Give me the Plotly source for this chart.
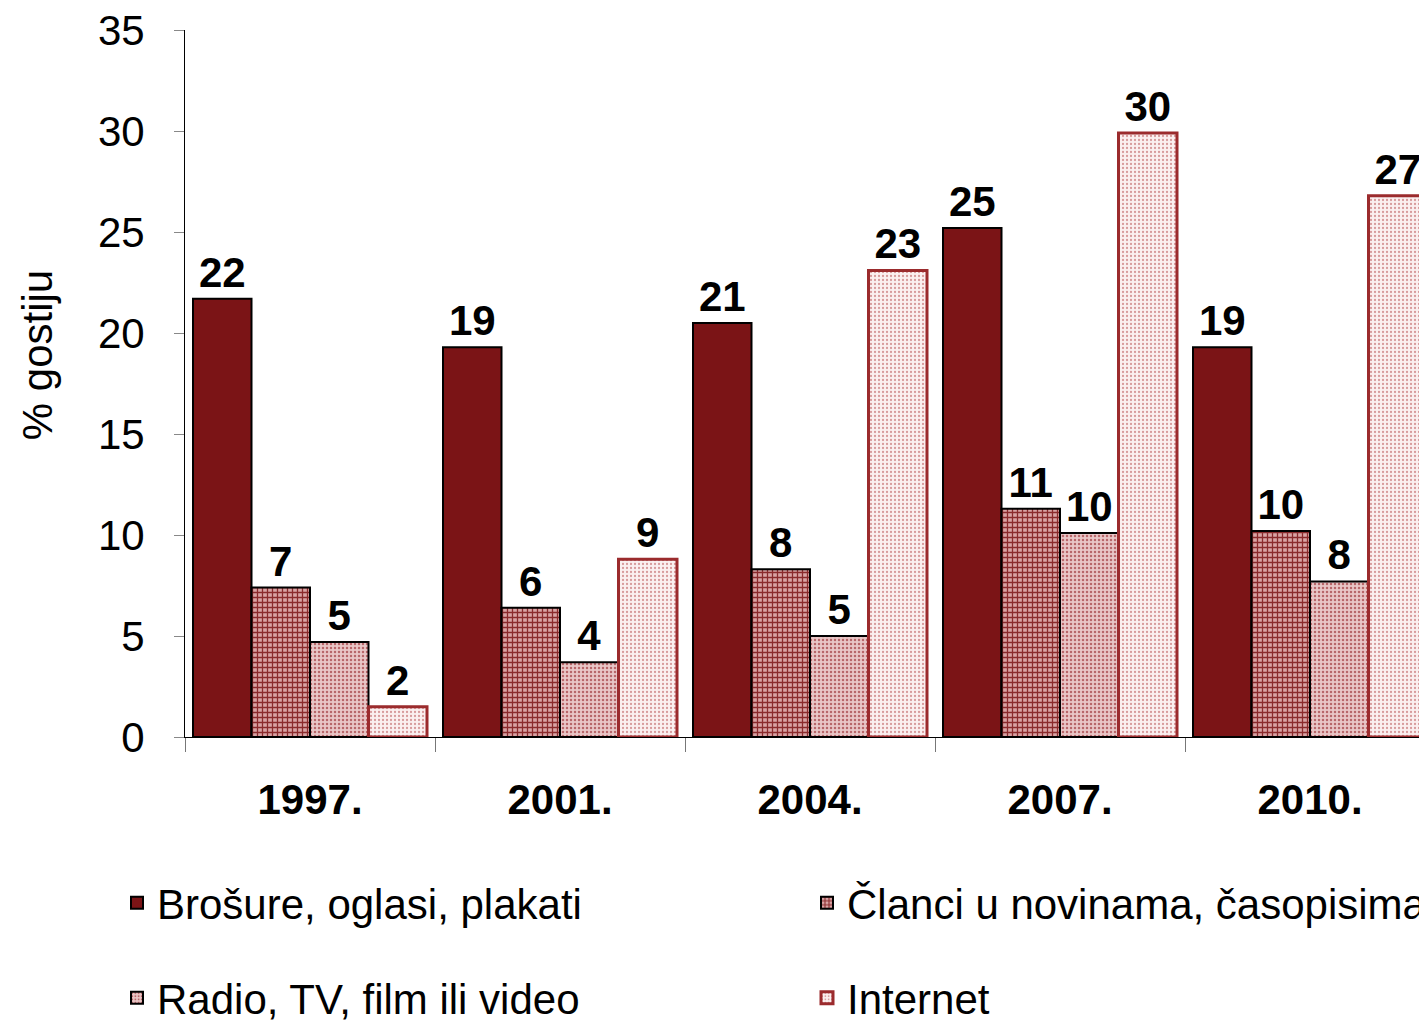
import plotly.graph_objects as go

# godine istraživanja
godine = ["1997.", "2001.", "2004.", "2007.", "2010."]

# % gostiju po izvoru informacija
brosure = [21.7, 19.3, 20.5, 25.2, 19.3]
clanci = [7.4, 6.4, 8.3, 11.3, 10.2]
radio_tv = [4.7, 3.7, 5.0, 10.1, 7.7]
internet = [1.5, 8.8, 23.1, 29.9, 26.8]

nazivi = ["Brošure, oglasi, plakati", "Članci u novinama, časopisima",
          "Radio, TV, film ili video", "Internet"]
naslov_y = "% gostiju"

FONT = "Liberation Sans, Arial, sans-serif"
FS = 42
label_font = dict(family=FONT, size=FS, color="black")

fig = go.Figure()

# (vrijednosti, legenda, izgled stupca)
serije = [
    (brosure, "legend", dict(color="#7B1416", line=dict(color="black", width=2))),
    (clanci, "legend2", dict(color="#8A2A2C",
                             pattern=dict(shape="+", bgcolor="#D9A3A4", fgcolor="#8A2A2C",
                                          size=5, solidity=0.45, fillmode="replace"),
                             line=dict(color="black", width=2))),
    (radio_tv, "legend3", dict(color="#C57F80",
                               pattern=dict(shape=".", bgcolor="#E9C7C7", fgcolor="#B8676A",
                                            size=4, solidity=0.3, fillmode="replace"),
                               line=dict(color="black", width=2))),
    (internet, "legend4", dict(color="#D9A0A1",
                               pattern=dict(shape=".", bgcolor="#FBF0F0", fgcolor="#D79A9B",
                                            size=4, solidity=0.25, fillmode="replace"),
                               line=dict(color="#9B2B2D", width=3))),
]

for (vals, leg, marker), ime in zip(serije, nazivi):
    fig.add_trace(go.Bar(
        x=godine, y=vals, name=ime, legend=leg, marker=marker, showlegend=True,
        texttemplate="<b>%{y:.0f}</b>", textposition="outside",
        textfont=label_font, cliponaxis=True,
    ))

leg_common = dict(font=dict(family=FONT, size=FS, color="black"),
                  xref="container", yref="container", xanchor="left", yanchor="middle",
                  bgcolor="rgba(0,0,0,0)", borderwidth=0, visible=True)

# naslov osi y kao rotirani tekst lijevo od brojeva
fig.add_annotation(text=naslov_y, textangle=-90, showarrow=False,
                   xref="paper", yref="paper", x=0, y=0.54, xanchor="center",
                   yanchor="middle", xshift=-148,
                   font=dict(family=FONT, size=FS, color="black"))

fig.update_layout(
    width=1419, height=1022,
    margin=dict(l=185, r=0, t=30, b=285, autoexpand=False),
    paper_bgcolor="white", plot_bgcolor="white",
    barmode="group", bargap=0.064, bargroupgap=0,
    font=dict(family=FONT, size=FS, color="black"),
    showlegend=True,
    legend=dict(x=117 / 1419, y=1 - 903 / 1022, **leg_common),
    legend2=dict(x=807 / 1419, y=1 - 903 / 1022, **leg_common),
    legend3=dict(x=117 / 1419, y=1 - 998 / 1022, **leg_common),
    legend4=dict(x=807 / 1419, y=1 - 998 / 1022, **leg_common),
    xaxis=dict(range=[-0.5, 4.436], showline=True, linecolor="black", linewidth=1,
               ticks="outside", tickson="boundaries", ticklen=14, tickcolor="#777777",
               tickfont=dict(family=FONT, size=FS, color="black", weight="bold"),
               ticklabelstandoff=26, showgrid=False, zeroline=False),
    yaxis=dict(range=[0, 35], dtick=5, showline=True, linecolor="black", linewidth=1,
               ticks="outside", ticklen=10, tickcolor="#888888",
               ticksuffix="\u2002",
               tickfont=dict(family=FONT, size=FS, color="black"),
               showgrid=False, zeroline=False),
)

fig.write_html("out.html", config={"displayModeBar": False},
               post_script="document.body.style.margin='0';")
